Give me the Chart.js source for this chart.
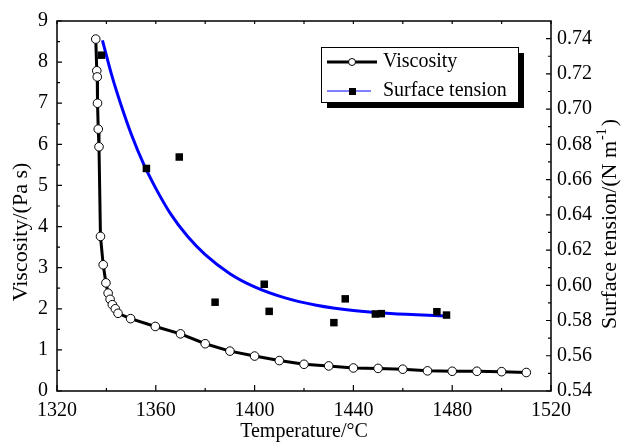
<!DOCTYPE html>
<html>
<head>
<meta charset="utf-8">
<script src="https://cdn.jsdelivr.net/npm/chart.js@4.4.1/dist/chart.umd.min.js"></script>
<style>
    html, body { margin: 0; padding: 0; background: #fff; }
    #wrap { width: 622px; height: 444px; position: relative; }
</style>
</head>
<body>
<div id="wrap"><canvas id="chart" width="622" height="444"></canvas></div>
<script>
// viscosity measurements (temperature in °C, viscosity in Pa s)
const viscosityTemp = [1335.7, 1336.1, 1336.3, 1336.4, 1336.7, 1337.0, 1337.6, 1338.7, 1339.8, 1340.7,
    1341.5, 1342.4, 1343.6, 1344.7, 1349.8, 1359.8, 1370, 1380, 1390, 1400, 1410, 1420, 1430, 1440,
    1450, 1460, 1470, 1480, 1490, 1500, 1510];
const viscosityValues = [8.56, 7.79, 7.64, 7.00, 6.37, 5.94, 3.76, 3.07, 2.63, 2.38,
    2.23, 2.10, 2.00, 1.89, 1.76, 1.57, 1.39, 1.15, 0.97, 0.85, 0.74, 0.65, 0.61, 0.56,
    0.55, 0.53, 0.49, 0.48, 0.48, 0.47, 0.45];

// surface tension measurements (N/m)
const tensionTemp = [1338.0, 1356.2, 1369.5, 1384.0, 1403.9, 1405.9, 1432.1, 1436.7, 1448.9, 1451.3, 1473.8, 1477.7];
const tensionValues = [0.7306, 0.6663, 0.6728, 0.5904, 0.6006, 0.5852, 0.5788, 0.5923, 0.5837, 0.5839, 0.5850, 0.5831];

// fitted surface tension curve
const fitTemp = [1338.4, 1342, 1346, 1350, 1355, 1360, 1366, 1373, 1380, 1390, 1400, 1412, 1425, 1440, 1455, 1478];
const fitValues = [0.739, 0.720, 0.702, 0.686, 0.669, 0.655, 0.6405, 0.6275, 0.6174, 0.6066, 0.5991, 0.593, 0.5887, 0.5857, 0.584, 0.5826];

const tempTicks = [1320, 1360, 1400, 1440, 1480, 1520];
const viscosityTicks = [0, 1, 2, 3, 4, 5, 6, 7, 8, 9];
const tensionTicks = [0.54, 0.56, 0.58, 0.60, 0.62, 0.64, 0.66, 0.68, 0.70, 0.72, 0.74];

const FONT = "'Liberation Serif', 'Times New Roman', serif";

function toPoints(xs, ys) {
    return xs.map((x, i) => ({ x: x, y: ys[i] }));
}

// frame, inward ticks, legend and the two y titles
const decorations = {
    id: "decorations",
    afterDraw(chart) {
        const ctx = chart.ctx;
        const area = chart.chartArea;
        const sx = chart.scales.x;
        const sy = chart.scales.y;
        const sy2 = chart.scales.y2;

        ctx.save();
        ctx.strokeStyle = "#000";
        ctx.lineWidth = 1.5;
        ctx.strokeRect(area.left, area.top, area.right - area.left, area.bottom - area.top);

        ctx.lineWidth = 1.2;
        ctx.beginPath();
        // x ticks: bottom major + minor, top every 20
        tempTicks.forEach((t, i) => {
            const px = sx.getPixelForValue(t);
            ctx.moveTo(px, area.bottom); ctx.lineTo(px, area.bottom - 6);
            ctx.moveTo(px, area.top); ctx.lineTo(px, area.top + 3);
            if (i < tempTicks.length - 1) {
                const mx = sx.getPixelForValue((t + tempTicks[i + 1]) / 2);
                ctx.moveTo(mx, area.bottom); ctx.lineTo(mx, area.bottom - 3);
                ctx.moveTo(mx, area.top); ctx.lineTo(mx, area.top + 3);
            }
        });
        viscosityTicks.forEach((v, i) => {
            const py = sy.getPixelForValue(v);
            ctx.moveTo(area.left, py); ctx.lineTo(area.left + 5, py);
            if (i < viscosityTicks.length - 1) {
                const my = sy.getPixelForValue(v + 0.5);
                ctx.moveTo(area.left, my); ctx.lineTo(area.left + 3, my);
            }
        });
        tensionTicks.forEach(v => {
            const py = sy2.getPixelForValue(v);
            ctx.moveTo(area.right, py); ctx.lineTo(area.right - 5, py);
            const my = sy2.getPixelForValue(v + 0.01);
            if (my > area.top) {
                ctx.moveTo(area.right, my); ctx.lineTo(area.right - 3, my);
            }
        });
        ctx.stroke();

        // legend box with shadow
        const lx = 321, ly = 47, lw = 197, lh = 55;
        ctx.fillStyle = "#000";
        ctx.fillRect(lx + 6, ly + 6, lw, lh);
        ctx.fillStyle = "#fff";
        ctx.fillRect(lx, ly, lw, lh);
        ctx.lineWidth = 1;
        ctx.strokeRect(lx + 0.5, ly + 0.5, lw, lh);

        ctx.lineWidth = 3;
        ctx.beginPath();
        ctx.moveTo(327, 62); ctx.lineTo(377, 62);
        ctx.stroke();
        ctx.lineWidth = 1;
        ctx.beginPath();
        ctx.arc(352, 62, 3.5, 0, Math.PI * 2);
        ctx.fillStyle = "#fff";
        ctx.fill();
        ctx.stroke();

        ctx.strokeStyle = "#0000ff";
        ctx.lineWidth = 1.2;
        ctx.beginPath();
        ctx.moveTo(327, 91); ctx.lineTo(371, 91);
        ctx.stroke();
        ctx.fillStyle = "#000";
        ctx.fillRect(349, 88, 7, 7);

        ctx.fillStyle = "#000";
        ctx.font = "20px " + FONT;
        ctx.textBaseline = "middle";
        ctx.textAlign = "left";
        ctx.fillText("Viscosity", 383, 62);
        ctx.fillText("Surface tension", 383, 91);

        // left axis title
        ctx.save();
        ctx.translate(21, 232);
        ctx.rotate(-Math.PI / 2);
        ctx.font = "22px " + FONT;
        ctx.textAlign = "center";
        ctx.fillText("Viscosity/(Pa s)", 0, 0);
        ctx.restore();

        // right axis title, reading bottom to top
        ctx.translate(610, 224);
        ctx.rotate(-Math.PI / 2);
        const main = "Surface tension/(N m";
        ctx.font = "22px " + FONT;
        const w1 = ctx.measureText(main).width;
        const w3 = ctx.measureText(")").width;
        ctx.font = "14px " + FONT;
        const w2 = ctx.measureText("-1").width;
        const start = -(w1 + w2 + w3 + 3) / 2;
        ctx.font = "22px " + FONT;
        ctx.fillText(main, start, 0);
        ctx.font = "14px " + FONT;
        ctx.fillText("-1", start + w1 + 1, -8);
        ctx.font = "22px " + FONT;
        ctx.fillText(")", start + w1 + w2 + 3, 0);
        ctx.restore();
    }
};

new Chart("chart", {
    type: "scatter",
    data: {
        datasets: [
            {
                label: "Viscosity",
                data: toPoints(viscosityTemp, viscosityValues),
                yAxisID: "y",
                showLine: true,
                borderColor: "#000",
                borderWidth: 3,
                pointRadius: 4.3,
                pointBackgroundColor: "#fff",
                pointBorderColor: "#000",
                pointBorderWidth: 1,
                clip: false
            },
            {
                label: "Surface tension data",
                data: toPoints(tensionTemp, tensionValues),
                yAxisID: "y2",
                showLine: false,
                pointStyle: "rect",
                pointRadius: 5.3,
                pointBackgroundColor: "#000",
                pointBorderColor: "#000",
                pointBorderWidth: 0
            },
            {
                label: "Surface tension",
                data: toPoints(fitTemp, fitValues),
                yAxisID: "y2",
                showLine: true,
                borderColor: "#0000ff",
                borderWidth: 3,
                pointRadius: 0,
                cubicInterpolationMode: "monotone"
            }
        ]
    },
    options: {
        responsive: false,
        animation: false,
        layout: { padding: { top: 19, left: 0, right: 0, bottom: 0 } },
        plugins: {
            legend: { display: false },
            tooltip: { enabled: false }
        },
        scales: {
            x: {
                type: "linear",
                min: 1320,
                max: 1520,
                grid: { display: false, drawTicks: false },
                border: { display: false },
                afterBuildTicks: scale => { scale.ticks = tempTicks.map(v => ({ value: v })); },
                ticks: {
                    padding: 8,
                    color: "#000",
                    font: { family: FONT, size: 20 },
                    maxRotation: 0,
                    callback: v => String(v)
                },
                title: {
                    display: true,
                    text: "Temperature/°C",
                    color: "#000",
                    font: { family: FONT, size: 20 },
                    padding: { top: 0, bottom: 0 }
                },
                afterFit: scale => { scale.height = 53; }
            },
            y: {
                position: "left",
                min: 0,
                max: 9,
                grid: { display: false, drawTicks: false },
                border: { display: false },
                afterBuildTicks: scale => { scale.ticks = viscosityTicks.map(v => ({ value: v })); },
                ticks: {
                    padding: 9,
                    color: "#000",
                    font: { family: FONT, size: 20 },
                    callback: v => String(v)
                },
                afterFit: scale => { scale.width = 57; }
            },
            y2: {
                position: "right",
                min: 0.54,
                max: 0.75,
                grid: { display: false, drawTicks: false },
                border: { display: false },
                afterBuildTicks: scale => { scale.ticks = tensionTicks.map(v => ({ value: v })); },
                ticks: {
                    padding: 6,
                    color: "#000",
                    font: { family: FONT, size: 20 },
                    callback: v => v.toFixed(2)
                },
                afterFit: scale => { scale.width = 71; }
            }
        }
    },
    plugins: [decorations]
});
</script>
</body>
</html>
